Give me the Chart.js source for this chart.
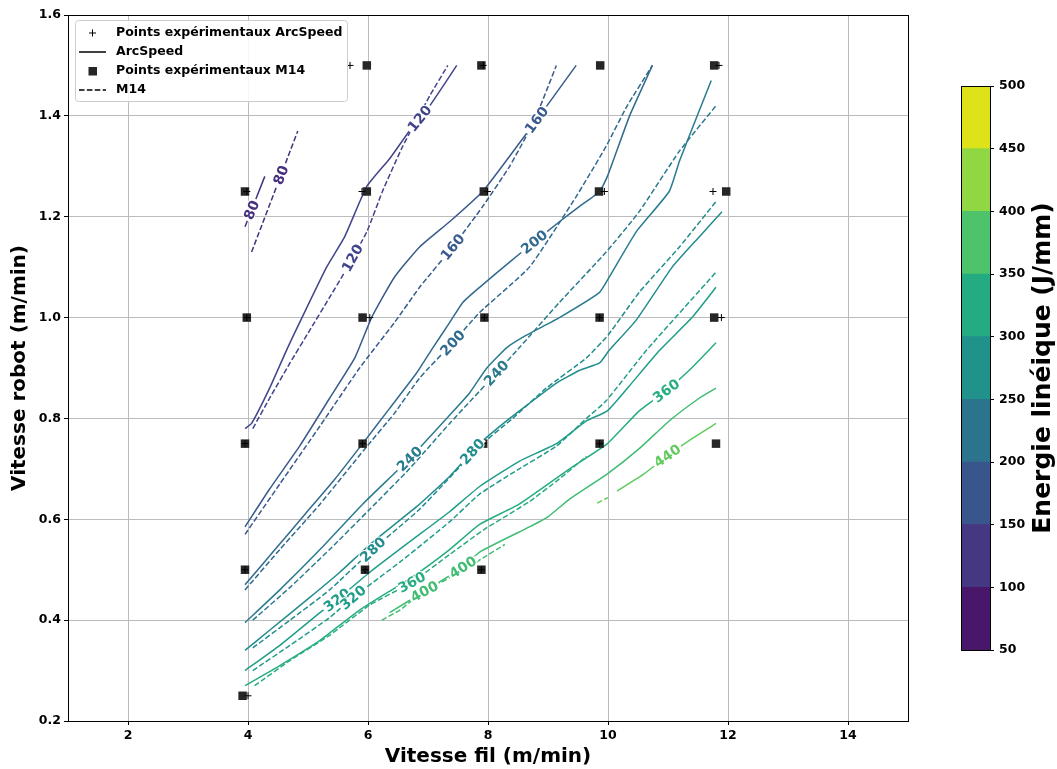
<!DOCTYPE html>
<html lang="fr">
<head>
  <meta charset="UTF-8">
  <title>Energie linéique : ArcSpeed / M14</title>
  <script src="https://cdn.jsdelivr.net/npm/chart.js"></script>
  <style>
    html, body { margin: 0; padding: 0; background: #fff; }
    #wrap { position: relative; width: 1057px; height: 769px; }
    #mainChart { position: absolute; left: 0; top: 0; }
    #barChart { position: absolute; left: 940px; top: 0; }
  </style>
</head>
<body>
<div id="wrap">
  <canvas id="mainChart" width="940" height="769"></canvas>
  <canvas id="barChart" width="117" height="769"></canvas>
</div>

<script>
// niveaux des isolignes (J/mm)
const levels = [80, 120, 160, 200, 240, 280, 320, 360, 400, 440];

// isolignes ArcSpeed : [vitesse fil, vitesse robot]
const arc80  = [[3.95,1.18],[4.28,1.28]];
const arc120 = [[3.95,0.78],[4.06,0.79],[4.36,0.86],[4.66,0.94],[4.90,1.00],[5.31,1.10],[5.61,1.16],[5.98,1.26],[6.36,1.315],[6.69,1.37],[7.03,1.42],[7.48,1.50]];
const arc160 = [[3.95,0.585],[4.36,0.66],[4.86,0.745],[5.36,0.84],[5.78,0.92],[6.06,1.00],[6.44,1.08],[6.86,1.14],[7.36,1.19],[7.91,1.25],[8.36,1.32],[8.86,1.40],[9.47,1.50]];
const arc200 = [[3.95,0.47],[4.45,0.54],[4.95,0.61],[5.45,0.68],[5.91,0.75],[6.36,0.82],[6.81,0.89],[7.08,0.94],[7.36,0.99],[7.58,1.03],[7.86,1.06],[8.36,1.11],[8.77,1.15],[9.19,1.19],[9.52,1.22],[9.86,1.25],[9.99,1.28],[10.36,1.40],[10.74,1.50]];
const arc240 = [[3.95,0.395],[4.53,0.46],[5.20,0.54],[5.91,0.63],[6.69,0.72],[7.31,0.80],[7.69,0.85],[7.98,0.90],[8.31,0.94],[8.64,0.965],[9.19,1.00],[9.86,1.05],[10.02,1.08],[10.47,1.17],[11.02,1.25],[11.19,1.31],[11.52,1.41],[11.72,1.47]];
const arc280 = [[3.95,0.34],[4.36,0.38],[5.03,0.445],[5.53,0.495],[6.08,0.555],[6.81,0.625],[7.36,0.685],[7.86,0.75],[8.36,0.80],[8.69,0.83],[9.14,0.87],[9.52,0.895],[9.86,0.91],[10.02,0.935],[10.47,0.995],[11.07,1.10],[11.52,1.16],[11.90,1.21]];
const arc320 = [[3.95,0.30],[4.53,0.35],[5.20,0.415],[5.48,0.44],[6.03,0.495],[6.69,0.555],[7.36,0.615],[7.86,0.665],[8.52,0.715],[9.14,0.75],[9.64,0.795],[9.99,0.815],[10.36,0.865],[10.86,0.935],[11.40,1.00],[11.80,1.06]];
const arc360 = [[3.95,0.27],[4.53,0.31],[5.20,0.36],[5.86,0.42],[6.73,0.485],[7.36,0.54],[7.86,0.59],[8.52,0.63],[9.36,0.70],[9.99,0.75],[10.52,0.815],[10.97,0.855],[11.35,0.895],[11.80,0.95]];
const arc400 = [[6.36,0.415],[6.98,0.46],[7.58,0.505],[7.86,0.535],[8.69,0.585],[9.00,0.605],[9.36,0.64],[9.99,0.69],[10.52,0.74],[11.02,0.795],[11.52,0.84],[11.80,0.86]];
const arc440 = [[10.15,0.656],[10.60,0.69],[10.98,0.725],[11.40,0.76],[11.80,0.79]];

// isolignes M14
const m14_80  = [[4.06,1.13],[4.83,1.37]];
const m14_120 = [[4.08,0.78],[4.36,0.84],[4.70,0.91],[5.03,0.975],[5.36,1.04],[5.61,1.09],[5.98,1.17],[6.24,1.25],[6.58,1.34],[7.03,1.44],[7.33,1.50]];
const m14_160 = [[3.95,0.57],[4.53,0.67],[5.20,0.785],[5.86,0.90],[6.44,0.99],[6.86,1.06],[7.41,1.14],[7.91,1.22],[8.36,1.30],[8.77,1.39],[9.14,1.50]];
const m14_200 = [[3.95,0.46],[4.53,0.54],[5.20,0.63],[5.95,0.74],[6.44,0.81],[6.86,0.88],[7.41,0.95],[7.86,1.01],[8.69,1.10],[9.47,1.24],[9.97,1.34],[10.32,1.42],[10.74,1.50]];
const m14_240 = [[4.08,0.40],[4.70,0.465],[5.36,0.54],[6.03,0.62],[6.69,0.70],[7.36,0.79],[8.14,0.89],[8.52,0.94],[9.19,1.03],[9.97,1.13],[10.52,1.21],[11.19,1.33],[11.80,1.42]];
const m14_280 = [[4.08,0.345],[4.70,0.40],[5.36,0.46],[6.08,0.54],[6.86,0.62],[7.86,0.745],[8.41,0.80],[8.97,0.86],[9.64,0.92],[10.00,0.965],[10.52,1.05],[11.19,1.14],[11.80,1.23]];
const m14_320 = [[4.08,0.30],[4.70,0.35],[5.36,0.405],[5.75,0.445],[6.53,0.515],[7.36,0.595],[7.86,0.65],[8.52,0.70],[9.14,0.745],[9.64,0.80],[9.97,0.835],[10.64,0.935],[11.80,1.09]];
const m14_360 = [[4.11,0.27],[4.70,0.32],[5.36,0.37],[6.03,0.43],[6.73,0.475],[7.36,0.53],[7.94,0.58],[8.69,0.635],[9.19,0.68],[9.64,0.725]];
const m14_400 = [[6.23,0.40],[6.53,0.42],[6.91,0.455],[7.53,0.495],[7.94,0.525],[8.28,0.55]];
const m14_440 = [[9.82,0.632],[10.00,0.643]];

const arcLines = [arc80, arc120, arc160, arc200, arc240, arc280, arc320, arc360, arc400, arc440];
const m14Lines = [m14_80, m14_120, m14_160, m14_200, m14_240, m14_280, m14_320, m14_360, m14_400, m14_440];

// points expérimentaux
const arcPoints = [[5.70,1.50],[7.92,1.50],[11.85,1.50],
  [3.98,1.25],[5.90,1.25],[7.99,1.25],[9.94,1.25],[11.75,1.25],
  [3.98,1.00],[6.03,1.00],[7.94,1.00],[9.86,1.00],[11.89,1.00],
  [3.95,0.75],[5.91,0.75],[7.92,0.75],[9.86,0.75],
  [3.95,0.50],[5.95,0.50],[7.89,0.50],
  [4.00,0.25]];
const m14Points = [[5.98,1.50],[7.89,1.50],[9.87,1.50],[11.77,1.50],
  [3.95,1.25],[5.98,1.25],[7.93,1.25],[9.85,1.25],[11.97,1.25],
  [3.98,1.00],[5.91,1.00],[7.94,1.00],[9.86,1.00],[11.77,1.00],
  [3.95,0.75],[5.91,0.75],[7.92,0.75],[9.86,0.75],[11.80,0.75],
  [3.95,0.50],[5.95,0.50],[7.89,0.50],
  [3.91,0.25]];

// étiquettes des isolignes : [niveau, courbe, vitesse fil]
const labelSpots = [
  [80,'arc',4.06],[80,'m14',4.55],
  [120,'arc',6.86],[120,'m14',5.74],
  [160,'arc',8.81],[160,'m14',7.41],
  [200,'arc',8.77],[200,'m14',7.41],
  [240,'arc',6.69],[240,'m14',8.14],
  [280,'arc',7.74],[280,'m14',6.08],
  [320,'arc',5.48],[320,'m14',5.75],
  [360,'arc',10.97],[360,'m14',6.73],
  [400,'arc',7.58],[400,'m14',6.94],
  [440,'arc',10.99]
];

const xTicks = [2, 4, 6, 8, 10, 12, 14];
const yTicks = [0.2, 0.4, 0.6, 0.8, 1.0, 1.2, 1.4, 1.6];

// barre de couleur
const cbEdges = [50, 100, 150, 200, 250, 300, 350, 400, 450, 500];
const cbColors = ['#481769', '#453781', '#39568c', '#2c738e', '#21918c', '#25ab82', '#4ec36b', '#90d743', '#dde318'];

const levelColors = ['#46307e', '#41448a', '#385a8c', '#306a8e', '#297b8e', '#228c8d', '#1f9d89', '#27ad81', '#40bd72', '#62cb5f'];

const FONT = '"DejaVu Sans", sans-serif';
const toXY = arr => arr.map(p => ({ x: p[0], y: p[1] }));

function lineAt(line, xv) {
  let i = 0;
  while (i < line.length - 2 && line[i + 1][0] < xv) i++;
  const a = line[i], b = line[i + 1];
  const t = (xv - a[0]) / (b[0] - a[0]);
  return { i, y: a[1] + t * (b[1] - a[1]) };
}

// cadre noir autour de la zone de tracé
const framePlugin = {
  id: 'frame',
  afterDatasetsDraw(chart) {
    const { ctx, chartArea: a } = chart;
    ctx.save();
    ctx.strokeStyle = '#000';
    ctx.lineWidth = 1;
    ctx.strokeRect(Math.round(a.left) + 0.5, Math.round(a.top) + 0.5, Math.round(a.right - a.left), Math.round(a.bottom - a.top));
    ctx.restore();
  }
};

// étiquettes en ligne des isolignes
const contourLabelPlugin = {
  id: 'contourLabels',
  afterDatasetsDraw(chart) {
    const { ctx } = chart;
    const xs = chart.scales.x, ys = chart.scales.y;
    ctx.save();
    ctx.font = 'bold 14px ' + FONT;
    ctx.textAlign = 'center';
    ctx.textBaseline = 'middle';
    labelSpots.forEach(([lvl, kind, xv]) => {
      const k = levels.indexOf(lvl);
      const line = (kind === 'arc' ? arcLines : m14Lines)[k];
      const hit = lineAt(line, xv);
      const a = line[hit.i], b = line[hit.i + 1];
      const ang = Math.atan2(ys.getPixelForValue(b[1]) - ys.getPixelForValue(a[1]),
                             xs.getPixelForValue(b[0]) - xs.getPixelForValue(a[0]));
      const txt = String(lvl);
      const w = ctx.measureText(txt).width;
      ctx.save();
      ctx.translate(xs.getPixelForValue(xv), ys.getPixelForValue(hit.y));
      ctx.rotate(ang);
      ctx.fillStyle = '#fff';
      ctx.fillRect(-w / 2 - 2, -3, w + 4, 6);
      ctx.lineWidth = 2;
      ctx.strokeStyle = '#fff';
      ctx.strokeText(txt, 0, 1);
      ctx.fillStyle = levelColors[k];
      ctx.fillText(txt, 0, 1);
      ctx.restore();
    });
    ctx.restore();
  }
};

// légende dans le coin haut gauche
const legendItems = [
  ['Points expérimentaux ArcSpeed', 'cross'],
  ['ArcSpeed', 'line'],
  ['Points expérimentaux M14', 'square'],
  ['M14', 'dash']
];
const legendPlugin = {
  id: 'boxLegend',
  afterDraw(chart) {
    const { ctx } = chart;
    ctx.save();
    ctx.beginPath();
    ctx.roundRect(75.5, 20.5, 272, 81, 3);
    ctx.fillStyle = 'rgba(255,255,255,0.85)';
    ctx.fill();
    ctx.strokeStyle = '#cccccc';
    ctx.lineWidth = 1;
    ctx.stroke();
    ctx.font = 'bold 12.5px ' + FONT;
    ctx.textBaseline = 'middle';
    legendItems.forEach(([txt, kind], i) => {
      const y = 33 + i * 19;
      ctx.strokeStyle = '#000';
      ctx.fillStyle = '#262626';
      ctx.lineWidth = 1.5;
      ctx.setLineDash([]);
      if (kind === 'cross') {
        ctx.lineWidth = 1;
        ctx.beginPath();
        ctx.moveTo(89, y); ctx.lineTo(96, y);
        ctx.moveTo(92.5, y - 3.5); ctx.lineTo(92.5, y + 3.5);
        ctx.stroke();
      } else if (kind === 'square') {
        ctx.fillRect(88.5, y - 4, 8.5, 8.5);
      } else {
        if (kind === 'dash') ctx.setLineDash([5.5, 2.4]);
        ctx.beginPath();
        ctx.moveTo(79, y); ctx.lineTo(106, y);
        ctx.stroke();
      }
      ctx.setLineDash([]);
      ctx.fillStyle = '#000';
      ctx.fillText(txt, 116, y);
    });
    ctx.restore();
  }
};

const lineSets = [];
levels.forEach((lvl, k) => {
  lineSets.push({
    label: 'ArcSpeed ' + lvl,
    data: toXY(arcLines[k]),
    showLine: true, pointRadius: 0, pointHitRadius: 0,
    borderColor: levelColors[k], borderWidth: 1.5, tension: 0.15, order: 2
  });
  lineSets.push({
    label: 'M14 ' + lvl,
    data: toXY(m14Lines[k]),
    showLine: true, pointRadius: 0, pointHitRadius: 0,
    borderColor: levelColors[k], borderWidth: 1.5, borderDash: [5.5, 2.4], tension: 0.15, order: 2
  });
});

const tickFont = { family: FONT, size: 12.5, weight: 'bold' };
const titleFont = { family: FONT, size: 20, weight: 'bold' };

new Chart(document.getElementById('mainChart'), {
  type: 'scatter',
  data: {
    datasets: [
      {
        label: 'Points expérimentaux ArcSpeed',
        data: toXY(arcPoints),
        pointStyle: 'cross', pointRadius: 3.5, borderColor: '#000', borderWidth: 1, order: 0
      },
      {
        label: 'Points expérimentaux M14',
        data: toXY(m14Points),
        pointStyle: 'rect', pointRadius: 6, backgroundColor: '#262626', borderColor: '#262626', borderWidth: 0, order: 1
      },
      ...lineSets
    ]
  },
  options: {
    responsive: false,
    animation: false,
    layout: { padding: { top: 15, right: 32, left: 0, bottom: 0 } },
    plugins: { legend: { display: false }, tooltip: { enabled: false } },
    scales: {
      x: {
        type: 'linear', min: 1, max: 15,
        afterBuildTicks: s => { s.ticks = xTicks.map(v => ({ value: v })); },
        afterFit: s => { s.height = 48; },
        grid: { color: '#bcbcbc', lineWidth: 1, tickColor: '#000', tickLength: 4 },
        border: { color: '#000', width: 1 },
        ticks: { color: '#000', font: tickFont, padding: 3, maxRotation: 0 },
        title: { display: true, text: 'Vitesse fil (m/min)', color: '#000', font: titleFont, padding: { top: 0, bottom: 0 } }
      },
      y: {
        type: 'linear', min: 0.2, max: 1.6,
        afterBuildTicks: s => { s.ticks = yTicks.map(v => ({ value: v })); },
        afterFit: s => { s.width = 68; },
        grid: { color: '#bcbcbc', lineWidth: 1, tickColor: '#000', tickLength: 4 },
        border: { color: '#000', width: 1 },
        ticks: { color: '#000', font: tickFont, padding: 3, callback: v => Number(v).toFixed(1) },
        title: { display: true, text: 'Vitesse robot (m/min)', color: '#000', font: titleFont, padding: { top: 8, bottom: 0 } }
      }
    }
  },
  plugins: [framePlugin, contourLabelPlugin, legendPlugin]
});

// titre vertical de la barre de couleur
const cbTitlePlugin = {
  id: 'cbTitle',
  afterDraw(chart) {
    const { ctx, chartArea: a } = chart;
    ctx.save();
    ctx.translate(103, (a.top + a.bottom) / 2);
    ctx.rotate(-Math.PI / 2);
    ctx.font = 'bold 25px ' + FONT;
    ctx.fillStyle = '#000';
    ctx.textAlign = 'center';
    ctx.textBaseline = 'middle';
    ctx.fillText('Energie linéique (J/mm)', 0, 0);
    ctx.restore();
  }
};

new Chart(document.getElementById('barChart'), {
  type: 'bar',
  data: {
    labels: [''],
    datasets: cbColors.map((c, i) => ({
      label: cbEdges[i] + '-' + cbEdges[i + 1],
      data: [[cbEdges[i], cbEdges[i + 1]]],
      backgroundColor: c, borderWidth: 0,
      grouped: false, barPercentage: 1, categoryPercentage: 1
    }))
  },
  options: {
    responsive: false,
    animation: false,
    layout: { padding: { top: 86, bottom: 119, left: 21, right: 0 } },
    plugins: { legend: { display: false }, tooltip: { enabled: false } },
    scales: {
      x: { display: false },
      y: {
        position: 'right', min: 50, max: 500,
        afterBuildTicks: s => { s.ticks = cbEdges.map(v => ({ value: v })); },
        afterFit: s => { s.width = 67; },
        grid: { drawOnChartArea: false, tickColor: '#000', tickLength: 4 },
        border: { color: '#000', width: 1 },
        ticks: { color: '#000', font: tickFont, padding: 5 }
      }
    }
  },
  plugins: [framePlugin, cbTitlePlugin]
});
</script>
</body>
</html>
